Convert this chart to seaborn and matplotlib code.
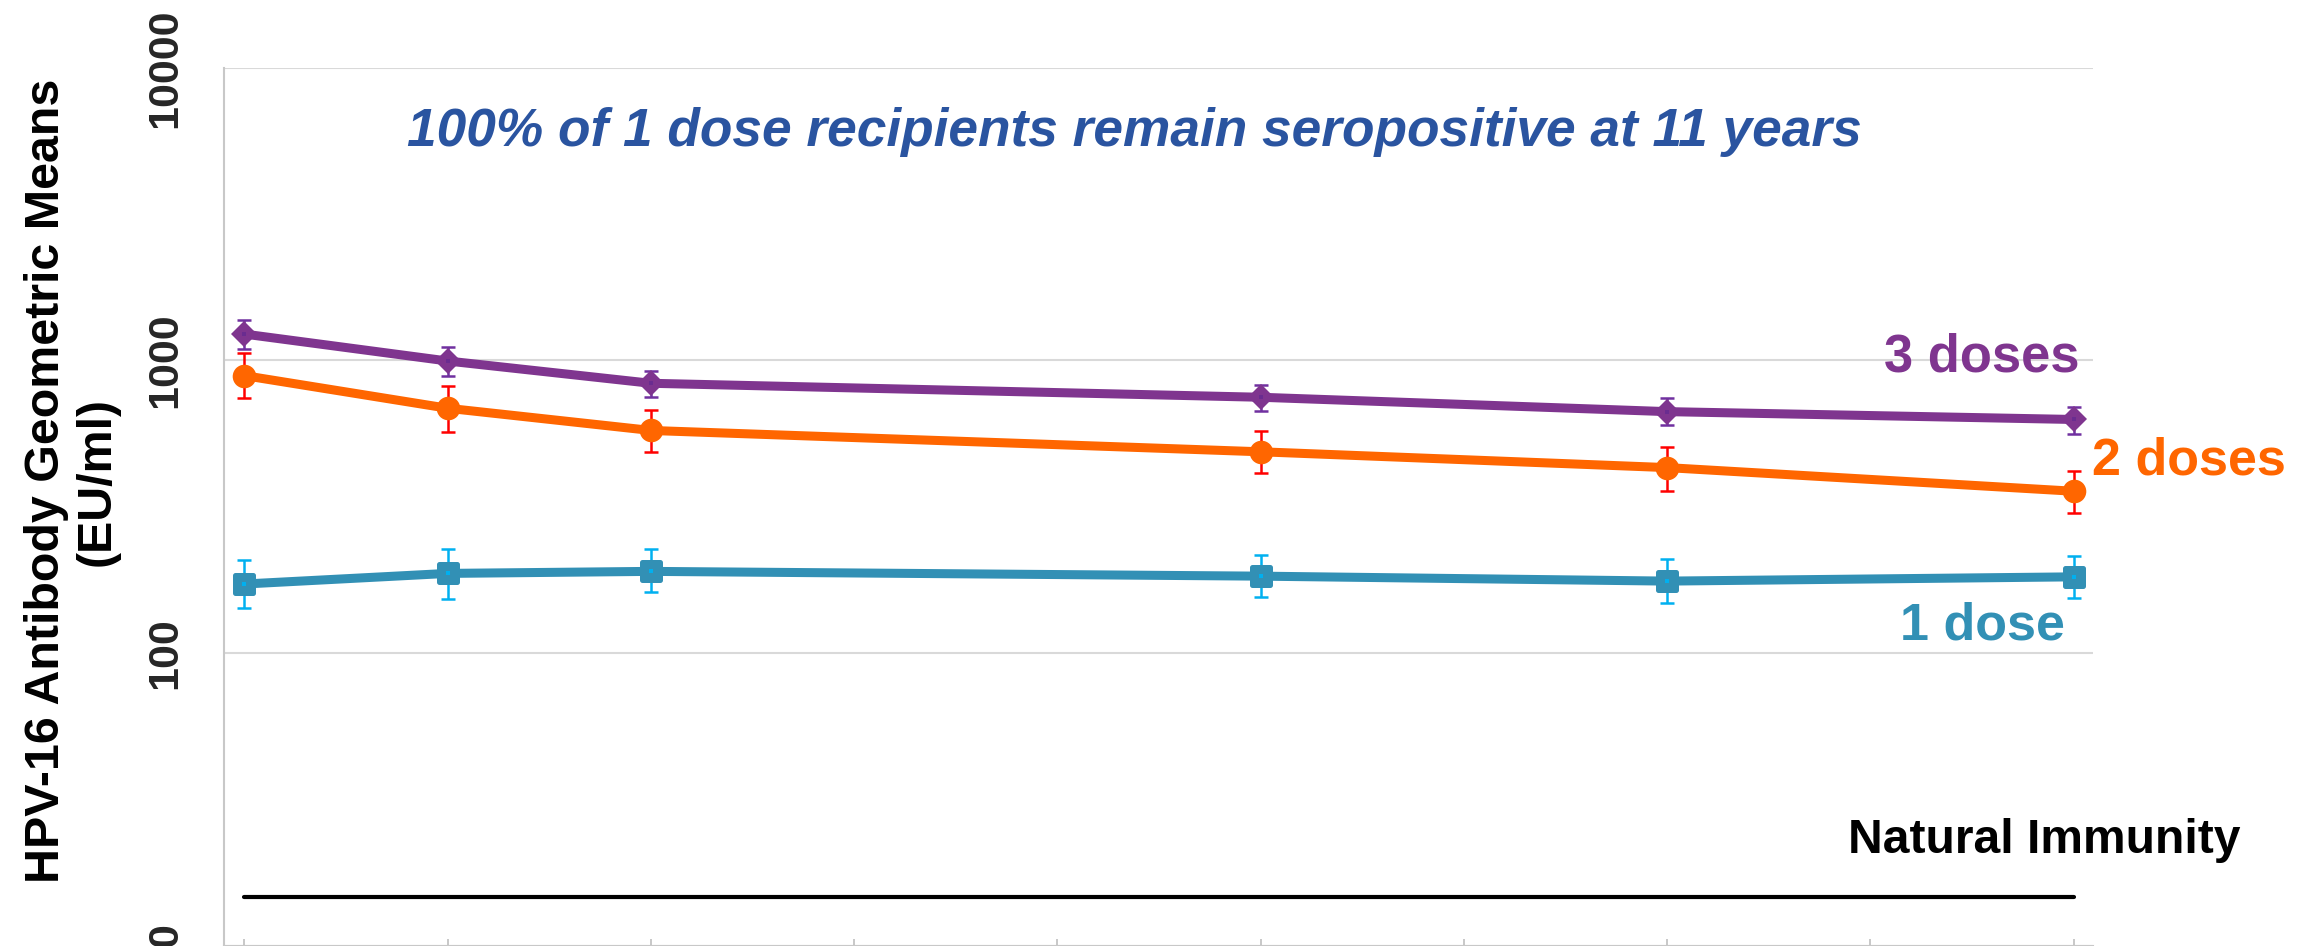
import numpy as np
import pandas as pd
import matplotlib
matplotlib.use("Agg")
import matplotlib.pyplot as plt
from matplotlib.markers import MarkerStyle
from matplotlib.ticker import FixedLocator, FuncFormatter
import seaborn as sns

# Years since vaccination at each follow-up visit
years = [2, 3, 4, 7, 9, 11]
year_ticks = [2, 3, 4, 5, 6, 7, 8, 9, 10, 11]

# HPV-16 geometric mean titres (EU/ml) with 95% confidence limits
gmt_3 = [1230, 995, 835, 748, 668, 628]
lo_3 = [1091, 885, 750, 672, 599, 562]
hi_3 = [1369, 1111, 920, 824, 746, 695]

gmt_2 = [887, 686, 576, 487, 430, 357]
lo_2 = [743, 570, 485, 411, 359, 301]
hi_2 = [1062, 818, 679, 574, 504, 420]

gmt_1 = [172, 187, 190, 183, 176, 182]
lo_1 = [142, 153, 161, 155, 148, 154]
hi_1 = [208, 227, 226, 216, 209, 214]

natural_immunity = 14.6

y_ticks = [10, 100, 1000, 10000]

series_names = ["3 doses", "2 doses", "1 dose"]

sns.set_theme(style="white")
plt.rcParams["font.family"] = ["Liberation Sans", "DejaVu Sans"]
plt.rcParams["font.weight"] = "bold"

W, H = 2310, 946
fig = plt.figure(figsize=(W / 100, H / 100), dpi=100)
ax_left, ax_right, ax_top, ax_bottom = 224, 2093, 67.8, 945.5
ax = fig.add_axes([ax_left / W, 1 - ax_bottom / H,
                   (ax_right - ax_left) / W, (ax_bottom - ax_top) / H])

PURPLE = "#7F358F"
ORANGE = "#FF6600"
TEAL = "#3290B5"

styles = {
    "3 doses": dict(gmt=gmt_3, lo=lo_3, hi=hi_3, color=PURPLE, ecolor="#7030A0",
                    marker=MarkerStyle("D"), ms=13.5, mew=0, dot="#6A2C90"),
    "2 doses": dict(gmt=gmt_2, lo=lo_2, hi=hi_2, color=ORANGE, ecolor="#FF0000",
                    marker=MarkerStyle("o"), ms=17, mew=0, dot=None),
    "1 dose": dict(gmt=gmt_1, lo=lo_1, hi=hi_1, color=TEAL, ecolor="#00B0F0",
                   marker=MarkerStyle("s", joinstyle="round"), ms=13, mew=3.6, dot="#00B0F0"),
}

for name in series_names:
    s = styles[name]
    g = np.array(s["gmt"], dtype=float)
    lo = np.array(s["lo"], dtype=float)
    hi = np.array(s["hi"], dtype=float)
    ax.errorbar(years, g, yerr=[g - lo, hi - g], fmt="none", ecolor=s["ecolor"],
                elinewidth=1.8, capsize=5.0, capthick=1.8, zorder=2)
    df = pd.DataFrame({"year": years, "gmt": g})
    sns.lineplot(data=df, x="year", y="gmt", ax=ax, color=s["color"], lw=6.5,
                 marker=s["marker"], markersize=s["ms"], markeredgewidth=s["mew"],
                 markeredgecolor=s["color"], markerfacecolor=s["color"],
                 solid_joinstyle="round", zorder=3, legend=False)
    if s["dot"] is not None:
        ax.plot(years, g, ls="none", marker="s", ms=3, color=s["dot"], mew=0, zorder=4)

# Natural immunity reference level
ax.plot([years[0], years[-1]], [natural_immunity, natural_immunity],
        color="black", lw=3.0, solid_capstyle="round", zorder=3)

ax.set_yscale("log")
ax.set_ylim(10, 10000)
ax.set_xlim(1.9, 11.095)
ax.yaxis.set_major_locator(FixedLocator(y_ticks))
ax.yaxis.set_minor_locator(FixedLocator([]))
ax.yaxis.set_major_formatter(FuncFormatter(lambda v, p: f"{v:.0f}"))
ax.set_xticks(year_ticks)
ax.set_xticklabels([])
ax.set_xlabel("")
ax.set_ylabel("")

ax.tick_params(axis="y", length=0, pad=28, labelsize=31)
for lab in ax.get_yticklabels():
    lab.set_rotation(90)
    lab.set_va("center")
    lab.set_fontweight("bold")
ax.tick_params(axis="x", direction="in", length=5, width=1.2, color="#BFBFBF", bottom=True)

ax.grid(axis="y", color="#D9D9D9", lw=1.5)
ax.grid(axis="x", visible=False)
for side in ("right", "top"):
    ax.spines[side].set_visible(False)
for side in ("left", "bottom"):
    ax.spines[side].set_color("#C8C8C8")
    ax.spines[side].set_linewidth(1.5)


def ftext(x, y, s, **kw):
    fig.text(x / W, 1 - y / H, s, **kw)


ftext(1134, 146, "100% of 1 dose recipients remain seropositive at 11 years",
      ha="center", va="baseline", fontsize=38.3, fontweight="bold", style="italic",
      color="#2A54A0")
ftext(2079, 372, "3 doses", ha="right", va="baseline", fontsize=37.8,
      fontweight="bold", color=PURPLE)
ftext(2092, 474, "2 doses", ha="left", va="baseline", fontsize=37.5,
      fontweight="bold", color=ORANGE)
ftext(2065, 640, "1 dose", ha="right", va="baseline", fontsize=37.5,
      fontweight="bold", color=TEAL)
ftext(2044, 853, "Natural Immunity", ha="center", va="baseline", fontsize=34.6,
      fontweight="bold", color="black")
ftext(72, 481, "HPV-16 Antibody Geometric Means\n(EU/ml)", ha="center", va="center",
      rotation=90, multialignment="center", fontsize=34.8, fontweight="bold",
      color="black", linespacing=1.15)

fig.savefig("out.png", dpi=100)
